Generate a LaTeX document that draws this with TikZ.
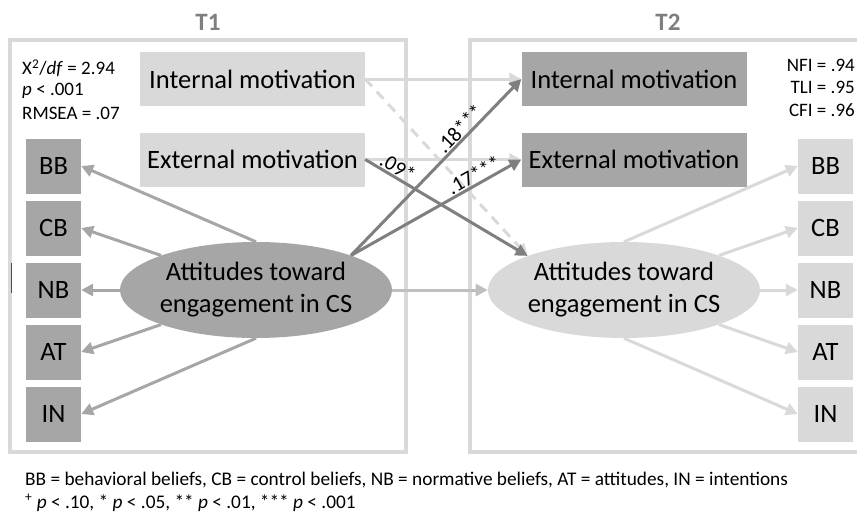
\documentclass[tikz,border=0pt]{standalone}
\usepackage{fontspec}
\setmainfont{Carlito}
\usetikzlibrary{arrows.meta,shapes.geometric}
\definecolor{frameg}{HTML}{D9D9D9}
\definecolor{lightg}{HTML}{D9D9D9}
\definecolor{midg}{HTML}{A6A6A6}
\definecolor{linkg}{HTML}{BFBFBF}
\definecolor{darkg}{HTML}{7F7F7F}
\begin{document}
\begin{tikzpicture}[x=1pt,y=-1pt,
  tframe/.style={draw=frameg,line width=4pt},
  timelabel/.style={font=\fontsize{25}{30}\selectfont\bfseries,text=darkg},
  stat/.style={font=\fontsize{19}{22}\selectfont,inner sep=0pt},
  motbox/.style={minimum width=225pt,minimum height=54pt,inner sep=0pt,font=\fontsize{26.5}{31}\selectfont},
  indbox/.style={minimum width=55pt,minimum height=55pt,inner sep=0pt,font=\fontsize{26.5}{31}\selectfont},
  latent/.style={ellipse,minimum width=272pt,minimum height=96pt,inner sep=0pt,align=center,font=\fontsize{26.5}{32}\selectfont},
  arr/.style={line width=3pt,-{Triangle[length=12pt,width=12pt]}},
  loadone/.style={arr,draw=midg},
  loadtwo/.style={arr,draw=lightg},
  stable/.style={arr,draw=lightg},
  crossed/.style={arr,draw=darkg},
  weak/.style={arr,draw=lightg,dash pattern=on 10pt off 7pt},
  coef/.style={font=\fontsize{21}{24}\selectfont,sloped,above,inner sep=1pt},
  note/.style={font=\fontsize{19.3}{22}\selectfont,inner sep=0pt,anchor=west}
]
\useasboundingbox (0,0) rectangle (857,515);

% measurement-occasion frames
\draw[tframe] (10,40) rectangle (406,452);
\draw[tframe] (857,40) -- (470,40) -- (470,452) -- (857,452);
\draw[line width=0.8pt,draw=black!70] (11,263) -- (11,293);
\node[timelabel] (t1) at (208,22) {T1};
\node[timelabel] (t2) at (668,22) {T2};

% fit statistics
\node[stat,anchor=west] (chi) at (22,68) {X\textsuperscript{2}/\textit{df} = 2.94};
\node[stat,anchor=west] (pval) at (22,91) {\textit{p} < .001};
\node[stat,anchor=west] (rmsea) at (22,113) {RMSEA = .07};
\node[stat,anchor=east] (nfi) at (855,65) {NFI = .94};
\node[stat,anchor=east] (tli) at (855,87) {TLI = .95};
\node[stat,anchor=east] (cfi) at (855,110) {CFI = .96};

% motivation
\node[motbox,fill=lightg] (im1) at (252.5,79) {Internal motivation};
\node[motbox,fill=lightg] (em1) at (252.5,159.5) {External motivation};
\node[motbox,fill=midg] (im2) at (634,79) {Internal motivation};
\node[motbox,fill=midg] (em2) at (634,159.5) {External motivation};

% latent attitudes
\node[latent,fill=midg] (e1) at (256,290) {Attitudes toward\\engagement in CS};
\node[latent,fill=lightg] (e2) at (624,290) {Attitudes toward\\engagement in CS};

% indicators, T1
\node[indbox,fill=midg] (bb1) at (53.5,166) {BB};
\node[indbox,fill=midg] (cb1) at (53.5,228) {CB};
\node[indbox,fill=midg] (nb1) at (53.5,290) {NB};
\node[indbox,fill=midg] (at1) at (53.5,352) {AT};
\node[indbox,fill=midg] (in1) at (53.5,414) {IN};
% indicators, T2
\node[indbox,fill=lightg] (bb2) at (825.5,166) {BB};
\node[indbox,fill=lightg] (cb2) at (825.5,228) {CB};
\node[indbox,fill=lightg] (nb2) at (825.5,290) {NB};
\node[indbox,fill=lightg] (at2) at (825.5,352) {AT};
\node[indbox,fill=lightg] (in2) at (825.5,414) {IN};

% loadings
\draw[loadone] (e1.north) -- (bb1.east);
\draw[loadone] (e1.160) -- (cb1.east);
\draw[loadone] (e1.west) -- (nb1.east);
\draw[loadone] (e1.200) -- (at1.east);
\draw[loadone] (e1.south) -- (in1.east);
\draw[loadtwo] (e2.north) -- (bb2.west);
\draw[loadtwo] (e2.20) -- (cb2.west);
\draw[loadtwo] (e2.east) -- (nb2.west);
\draw[loadtwo] (e2.340) -- (at2.west);
\draw[loadtwo] (e2.south) -- (in2.west);

% stability paths
\draw[stable] (im1.east) -- (im2.west);
\draw[stable] (em1.east) -- (em2.west);
\draw[arr,draw=linkg] (e1.east) -- (e2.west);

% cross-lagged paths
\draw[weak] (im1.east) -- (e2.north west);
\draw[crossed] (em1.east) -- node[coef,pos=0.17] {.09*} (e2.north west);
\draw[crossed] (e1.20) -- node[coef,pos=0.68] {.18***} (im2.west);
\draw[crossed] (e1.20) -- node[coef,pos=0.75] {.17***} (em2.west);

% legend
\node[note] (abbr) at (25,480) {BB = behavioral beliefs, CB = control beliefs, NB = normative beliefs, AT = attitudes, IN = intentions};
\node[note] (sig) at (25,503) {\textsuperscript{+} \textit{p} < .10, * \textit{p} < .05, ** \textit{p} < .01, *** \textit{p} < .001};
\end{tikzpicture}
\end{document}
